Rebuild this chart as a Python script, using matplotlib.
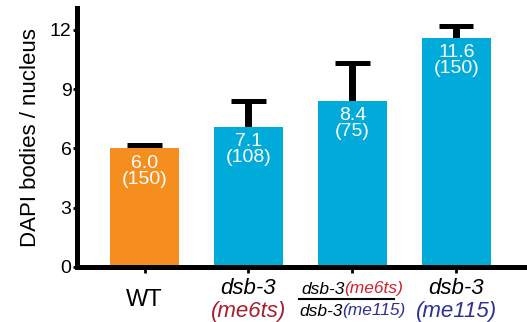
import numpy as np
import matplotlib.pyplot as plt
from matplotlib.lines import Line2D

plt.rcParams['font.family'] = ['Liberation Sans', 'DejaVu Sans']

# données
means = [6.0, 7.1, 8.4, 11.6]
errs = [0.15, 1.3, 1.9, 0.6]
counts = [150, 108, 75, 150]
colors = ['#F58D1F', '#00ABDA', '#00ABDA', '#00ABDA']
yticks = [0, 3, 6, 9, 12]

red = '#A51F2E'
red2 = '#D1202F'
blue = '#2E3192'

fig = plt.figure(figsize=(5.27, 3.22), dpi=100)
ax = fig.add_axes([0.146, 0.171, 0.854, 0.804])

x = np.arange(len(means))
tops = np.array(means) + np.array(errs)
ax.bar(x, means, width=0.66, color=colors, zorder=2)
# barres d'erreur (vers le haut seulement)
ax.vlines(x, means, tops, color='black', lw=5, zorder=1)
ax.hlines(tops, x - 0.165, x + 0.165, color='black', lw=3.6, zorder=1)

for xi, m, n in zip(x, means, counts):
    ax.annotate('%.1f\n(%d)' % (m, n), (xi, m), xytext=(0, -4.5),
                textcoords='offset points', ha='center', va='top',
                color='white', fontsize=14, linespacing=0.92)

ax.set_xlim(-0.65, 3.68)
ax.set_ylim(0, 13.1)
ax.set_yticks(yticks)
ax.set_yticklabels([str(t) for t in yticks], fontsize=14)
ax.tick_params(axis='y', length=3, width=2, pad=1)
ax.tick_params(axis='x', length=4, width=2, direction='out')
ax.set_xticks(x)
ax.set_xticklabels([])
for s in ['top', 'right']:
    ax.spines[s].set_visible(False)
for s in ['left', 'bottom']:
    ax.spines[s].set_linewidth(3.6)
ax.set_ylabel('DAPI bodies / nucleus', fontsize=16, labelpad=6)

fig.canvas.draw()
r = fig.canvas.get_renderer()


def pieces(xc, yc, parts, size, style='italic'):
    # dessine une suite de morceaux colorés centrés en xc (pixels)
    ts = []
    for s, c in parts:
        t = fig.text(0, 0, s, color=c, fontsize=size, style=style,
                     va='center', ha='left', transform=None)
        ts.append(t)
    ws = [t.get_window_extent(r).width for t in ts]
    x0 = xc - sum(ws) / 2
    for t, w in zip(ts, ws):
        t.set_position((x0, yc))
        x0 += w
    return sum(ws)


def px(xd):
    return ax.transData.transform((xd, 0))[0]


H = 322
fig.text(px(0) / 527, 1 - 300 / H, 'WT', fontsize=17, ha='center', va='center')
pieces(px(1), H - 289, [('dsb-3', 'black')], 16)
pieces(px(1), H - 311, [('(me6ts)', red)], 16)
pieces(px(2), H - 289, [('dsb-3', 'black'), ('(me6ts)', red2)], 12.5)
pieces(px(2), H - 311, [('dsb-3', 'black'), ('(me115)', blue)], 12.5)
pieces(px(3), H - 289, [('dsb-3', 'black')], 16)
pieces(px(3), H - 311, [('(me115)', blue)], 16)
fig.add_artist(Line2D([(px(2) - 53) / 527, (px(2) + 42) / 527],
                      [1 - 299 / H, 1 - 299 / H], color='black', lw=1.5))

fig.savefig('out.png', dpi=100)
